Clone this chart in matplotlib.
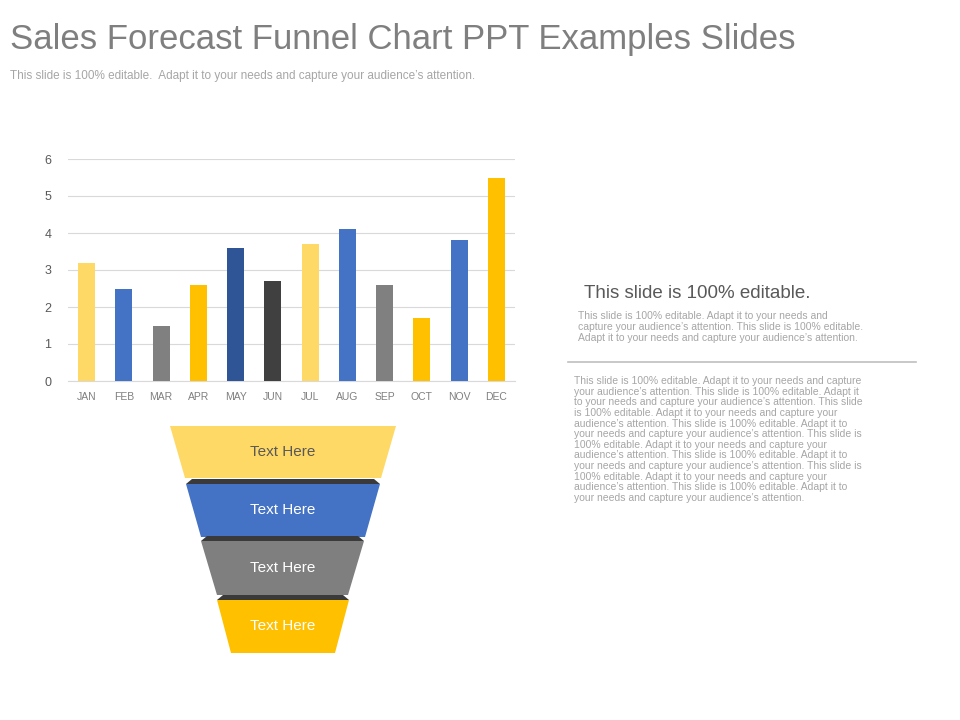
import matplotlib
matplotlib.use("Agg")
import matplotlib.pyplot as plt
from matplotlib.patches import Polygon
plt.rcParams["font.family"] = "Liberation Sans"

months = ["JAN","FEB","MAR","APR","MAY","JUN","JUL","AUG","SEP","OCT","NOV","DEC"]
values = [3.2,2.5,1.5,2.6,3.6,2.7,3.7,4.1,2.6,1.7,3.8,5.5]
colors = ["#FFD966","#4472C4","#808080","#FFC000","#2F5597","#404040",
          "#FFD966","#4472C4","#808080","#FFC000","#4472C4","#FFC000"]
funnel_labels = ["Text Here","Text Here","Text Here","Text Here"]
funnel_colors = ["#FFD966","#4472C4","#7F7F7F","#FFC000"]
funnel_text_colors = ["#595959","white","white","white"]

W, H = 960, 720
fig = plt.figure(figsize=(9.6,7.2), dpi=100)
fig.patch.set_facecolor("white")

fig.text(10/W, 1-40/H, "Sales Forecast Funnel Chart PPT Examples Slides", fontsize=25, color="#7F7F7F", va="center")
fig.text(10/W, 1-76/H, "This slide is 100% editable.  Adapt it to your needs and capture your audience\u2019s attention.", fontsize=8.5, color="#A6A6A6", va="center")

ax = fig.add_axes([68/W, 1-381/H, (515-68)/W, (381-159)/H])
ax.bar(range(12), values, color=colors, width=0.45, zorder=3)
ax.set_ylim(0,6)
ax.set_xlim(-0.5,11.5)
ax.set_yticks(range(7))
ax.set_xticks(range(12))
ax.set_xticklabels(months)
ax.grid(axis="y", color="#D9D9D9", lw=0.8, zorder=0)
for s in ["top","right","left"]:
    ax.spines[s].set_visible(False)
ax.spines["bottom"].set_color("#D9D9D9")
ax.tick_params(length=0, labelsize=7.5, colors="#7F7F7F", pad=8)
ax.tick_params(axis="y", labelsize=9, pad=12, colors="#595959")

layers = [(426,478,170,396,185,381),(484,537,186,380,201,365),(541,595,201,364,217,348),(600,653,217,349,231,335)]
for i,(yt,yb,xtl,xtr,xbl,xbr) in enumerate(layers):
    pts = [(xtl,yt),(xtr,yt),(xbr,yb),(xbl,yb)]
    fig.patches.append(Polygon([(x/W,1-y/H) for x,y in pts], closed=True, facecolor=funnel_colors[i], edgecolor="none", transform=fig.transFigure))
    if i>0:
        lip = [(xtl,yt),(xtr,yt),(xtr-6,yt-5),(xtl+6,yt-5)]
        fig.patches.append(Polygon([(x/W,1-y/H) for x,y in lip], closed=True, facecolor="#3A3A3A", edgecolor="none", transform=fig.transFigure))
    fig.text(((xtl+xtr)/2)/W, 1-((yt+yb)/2)/H, funnel_labels[i], color=funnel_text_colors[i], fontsize=11, ha="center", va="center")

fig.text(584/W, 1-293/H, "This slide is 100% editable.", fontsize=13.5, color="#595959", va="center")
p1 = ("This slide is 100% editable. Adapt it to your needs and\n"
      "capture your audience\u2019s attention. This slide is 100% editable.\n"
      "Adapt it to your needs and capture your audience\u2019s attention.")
fig.text(578/W, 1-311/H, p1, fontsize=7.5, color="#A6A6A6", va="top", linespacing=1.1)
fig.add_artist(plt.Line2D([568/W, 916/W], [1-362/H, 1-362/H], color="#BFBFBF", lw=1.2, transform=fig.transFigure))
p2 = ("This slide is 100% editable. Adapt it to your needs and capture\n"
      "your audience\u2019s attention. This slide is 100% editable. Adapt it\n"
      "to your needs and capture your audience\u2019s attention. This slide\n"
      "is 100% editable. Adapt it to your needs and capture your\n"
      "audience\u2019s attention. This slide is 100% editable. Adapt it to\n"
      "your needs and capture your audience\u2019s attention. This slide is\n"
      "100% editable. Adapt it to your needs and capture your\n"
      "audience\u2019s attention. This slide is 100% editable. Adapt it to\n"
      "your needs and capture your audience\u2019s attention. This slide is\n"
      "100% editable. Adapt it to your needs and capture your\n"
      "audience\u2019s attention. This slide is 100% editable. Adapt it to\n"
      "your needs and capture your audience\u2019s attention.")
fig.text(574/W, 1-376/H, p2, fontsize=7.5, color="#A6A6A6", va="top", linespacing=1.08)

fig.savefig("out.png", dpi=100)
